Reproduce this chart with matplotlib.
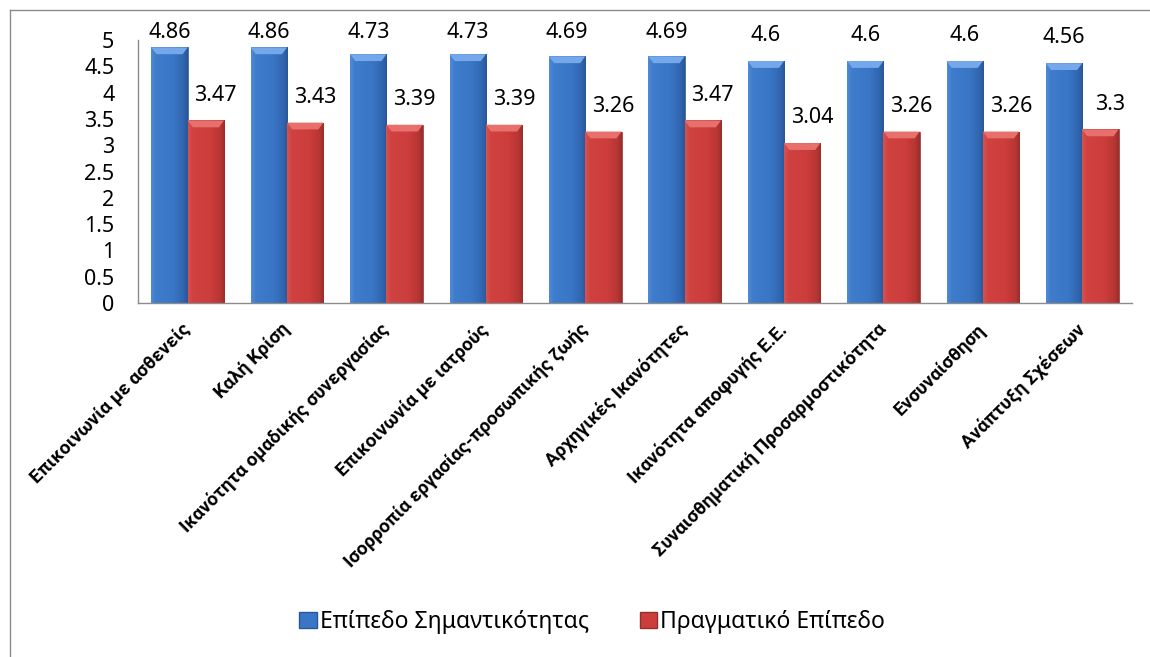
import matplotlib
matplotlib.use("Agg")
import matplotlib.pyplot as plt
import numpy as np
from matplotlib.lines import Line2D
from matplotlib.patches import Patch
from matplotlib.colors import LinearSegmentedColormap

plt.rcParams['font.family'] = ['Noto Sans', 'DejaVu Sans']

categories = [
    "Επικοινωνία με ασθενείς",
    "Καλή Κρίση",
    "Ικανότητα ομαδικής συνεργασίας",
    "Επικοινωνία με ιατρούς",
    "Ισορροπία εργασίας-προσωπικής ζωής",
    "Αρχηγικές Ικανότητες",
    "Ικανότητα αποφυγής Ε.Ε.",
    "Συναισθηματική Προσαρμοστικότητα",
    "Ενσυναίσθηση",
    "Ανάπτυξη Σχέσεων",
]
importance = [4.86, 4.86, 4.73, 4.73, 4.69, 4.69, 4.6, 4.6, 4.6, 4.56]
actual = [3.47, 3.43, 3.39, 3.39, 3.26, 3.47, 3.04, 3.26, 3.26, 3.3]
series_names = ["Επίπεδο Σημαντικότητας", "Πραγματικό Επίπεδο"]
yticks = [0, 0.5, 1, 1.5, 2, 2.5, 3, 3.5, 4, 4.5, 5]

blue = "#3a76c6"
blue_edge = "#2a5896"
red = "#cc3d3b"
red_edge = "#93302e"

blue_cmap = LinearSegmentedColormap.from_list(
    "bl", [(0, "#4f8bd6"), (0.12, "#3f7ccb"), (0.6, "#3a76c6"), (0.88, "#3166b0"), (1, "#2a5696")])
red_cmap = LinearSegmentedColormap.from_list(
    "rd", [(0, "#d85250"), (0.12, "#d0423f"), (0.6, "#cc3d3b"), (0.88, "#b83634"), (1, "#982f2d")])

fig = plt.figure(figsize=(11.5, 6.57), dpi=100)
ax = fig.add_axes([0.120, 0.5388, 0.8643, 0.4003])

x = np.arange(len(categories))
w = 0.365
b1 = ax.bar(x - w / 2, importance, w, color=blue, edgecolor=blue_edge, linewidth=0.5, zorder=2)
b2 = ax.bar(x + w / 2, actual, w, color=red, edgecolor=red_edge, linewidth=0.5, zorder=2)

grad = np.linspace(0, 1, 64).reshape(1, -1)
for bars, cmap, light in ((b1, blue_cmap, "#74a8ea"), (b2, red_cmap, "#e7706c")):
    for r in bars:
        x0, bw, h = r.get_x(), r.get_width(), r.get_height()
        im = ax.imshow(grad, cmap=cmap, aspect='auto', extent=(x0, x0 + bw, 0, h),
                       zorder=2.5, interpolation='bicubic')
        im.set_clip_path(r)
        # bevelled top face
        ax.fill([x0, x0 + bw, x0 + bw * 0.86, x0 + bw * 0.14],
                [h, h, h - 0.13, h - 0.13], color=light, zorder=3, lw=0)

ax.set_xlim(-0.5, len(categories) - 0.5)
ax.set_ylim(0, 5)
ax.set_yticks(yticks)
ax.set_yticklabels([f"{t:g}" for t in yticks], fontsize=15.5)
ax.tick_params(axis='y', length=0, pad=17)
ax.set_xticks(x)
ax.set_xticklabels(categories, rotation=45, ha='right', va='center',
                   rotation_mode='anchor', fontsize=13.5, fontweight='bold',
                   family=['Roboto', 'DejaVu Sans'])
ax.tick_params(axis='x', length=0, pad=17)

for s in ('top', 'right'):
    ax.spines[s].set_visible(False)
for s in ('left', 'bottom'):
    ax.spines[s].set_color('#8c8c8c')
    ax.spines[s].set_linewidth(1.0)
    ax.spines[s].set_zorder(4)

def place(v):
    return min(v + 0.48, 5.15)

for xi, v in zip(x, importance):
    ax.text(xi - w / 2, place(v), f"{v:g}", ha='center', va='center',
            fontsize=15.5, clip_on=False)
for xi, v in zip(x, actual):
    ax.text(xi + w / 2 + 0.1, place(v), f"{v:g}", ha='center', va='center',
            fontsize=15.5, clip_on=False)

handles = [Patch(facecolor=blue, edgecolor=blue_edge),
           Patch(facecolor=red, edgecolor=red_edge)]
fig.legend(handles, series_names, loc='center', bbox_to_anchor=(0.515, 1 - 622 / 657),
           ncol=2, frameon=False, fontsize=16.5, handlelength=0.75, handleheight=0.75,
           handletextpad=0.15, columnspacing=2.2)

fig.add_artist(Line2D([10 / 1150, 10 / 1150], [0, 1 - 10 / 657], transform=fig.transFigure,
                      color='#8c8c8c', lw=1.0))
fig.add_artist(Line2D([10 / 1150, 1], [1 - 10 / 657, 1 - 10 / 657], transform=fig.transFigure,
                      color='#8c8c8c', lw=1.0))

fig.savefig("out.png", dpi=100)
